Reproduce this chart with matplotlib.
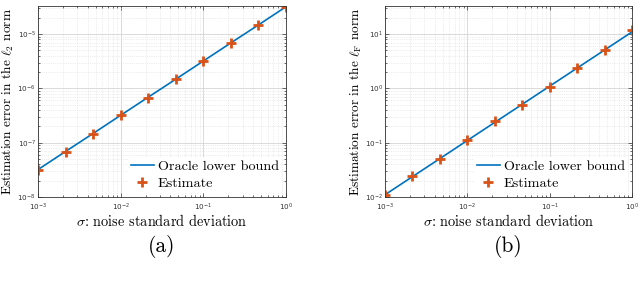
import numpy as np
import matplotlib
matplotlib.use('Agg')
import matplotlib.pyplot as plt
from matplotlib.ticker import LogLocator, NullFormatter

plt.rcParams['mathtext.fontset'] = 'cm'
plt.rcParams['axes.formatter.use_mathtext'] = True

sigma = [1e-3, 2.154e-3, 4.642e-3, 1e-2, 2.154e-2, 4.642e-2, 1e-1, 2.154e-1, 4.642e-1, 1.0]

# panel (a): l2 norm
oracle_a = [3.2e-8, 6.9e-8, 1.48e-7, 3.2e-7, 6.9e-7, 1.48e-6, 3.2e-6, 6.9e-6, 1.48e-5, 3.2e-5]
est_a = [3.2e-8, 6.8e-8, 1.47e-7, 3.25e-7, 6.8e-7, 1.47e-6, 3.2e-6, 6.9e-6, 1.5e-5, 3.2e-5]

# panel (b): lF norm
oracle_b = [1.1e-2, 2.37e-2, 5.1e-2, 1.1e-1, 2.37e-1, 5.1e-1, 1.1, 2.37, 5.1, 11.0]
est_b = [1.1e-2, 2.4e-2, 5.1e-2, 1.1e-1, 2.5e-1, 5.0e-1, 1.08, 2.35, 5.0, 12.0]

blue = '#0072BD'
orange = '#D95319'
lab_font = 'cmr10'

fig = plt.figure(figsize=(6.4, 2.88), dpi=100)
ax_a = fig.add_axes([38/640, 1 - 197/288, 248/640, 191/288])
ax_b = fig.add_axes([385/640, 1 - 197/288, 247/640, 191/288])

panels = [
    (ax_a, oracle_a, est_a, (1e-8, 3.3e-5), r'Estimation error in the $\ell_2$ norm', '(a)'),
    (ax_b, oracle_b, est_b, (1e-2, 33), r'Estimation error in the $\ell_{\mathrm{F}}$ norm', '(b)'),
]

for ax, orc, est, ylim, ylab, tag in panels:
    ax.loglog(sigma, orc, color=blue, lw=1.2, label='Oracle lower bound')
    ax.loglog(sigma, est, ls='none', marker='+', ms=7.5, mew=2, color=orange, label='Estimate')
    ax.set_xlim(1e-3, 1)
    ax.set_ylim(*ylim)
    ax.xaxis.set_major_locator(LogLocator(base=10, numticks=10))
    ax.yaxis.set_major_locator(LogLocator(base=10, numticks=10))
    ax.xaxis.set_minor_locator(LogLocator(base=10, subs=np.arange(2, 10), numticks=20))
    ax.yaxis.set_minor_locator(LogLocator(base=10, subs=np.arange(2, 10), numticks=20))
    ax.xaxis.set_minor_formatter(NullFormatter())
    ax.yaxis.set_minor_formatter(NullFormatter())
    ax.grid(True, which='major', color='#d4d4d4', lw=0.6)
    ax.grid(True, which='minor', color='#dcdcdc', lw=0.5, ls=':')
    ax.set_axisbelow(True)
    ax.tick_params(which='both', direction='in', top=True, right=True, labelsize=5.2,
                   labelcolor='#333333', color='#333333', width=0.5)
    ax.tick_params(axis='x', pad=3.5)
    ax.tick_params(axis='y', pad=1.5)
    ax.tick_params(which='major', length=3)
    ax.tick_params(which='minor', length=1.5)
    for s in ax.spines.values():
        s.set_color('#333333')
        s.set_linewidth(0.6)
    ax.set_xlabel(r'$\sigma$: noise standard deviation', family=lab_font, fontsize=10.3, labelpad=0)
    ax.set_ylabel(ylab, family=lab_font, fontsize=9.6)
    leg = ax.legend(loc='lower right', prop={'family': lab_font, 'size': 10.2}, frameon=True,
                    fancybox=False, edgecolor='none', framealpha=1, handlelength=1.6,
                    handletextpad=0.3, borderaxespad=0.3, borderpad=0.2, labelspacing=0.3)
    ax.text(0.5, -0.2, tag, transform=ax.transAxes, ha='center', va='top',
            family=lab_font, fontsize=15.5)

# put each y label just left of its tick labels
fig.canvas.draw()
rend = fig.canvas.get_renderer()
for ax in (ax_a, ax_b):
    minx = min(t.get_window_extent(rend).x0 for t in ax.get_yticklabels() if t.get_text())
    bb = ax.get_window_extent(rend)
    ax.yaxis.set_label_coords((minx - 1 - bb.x0) / bb.width, 0.5)

fig.savefig('out.png', dpi=100)
